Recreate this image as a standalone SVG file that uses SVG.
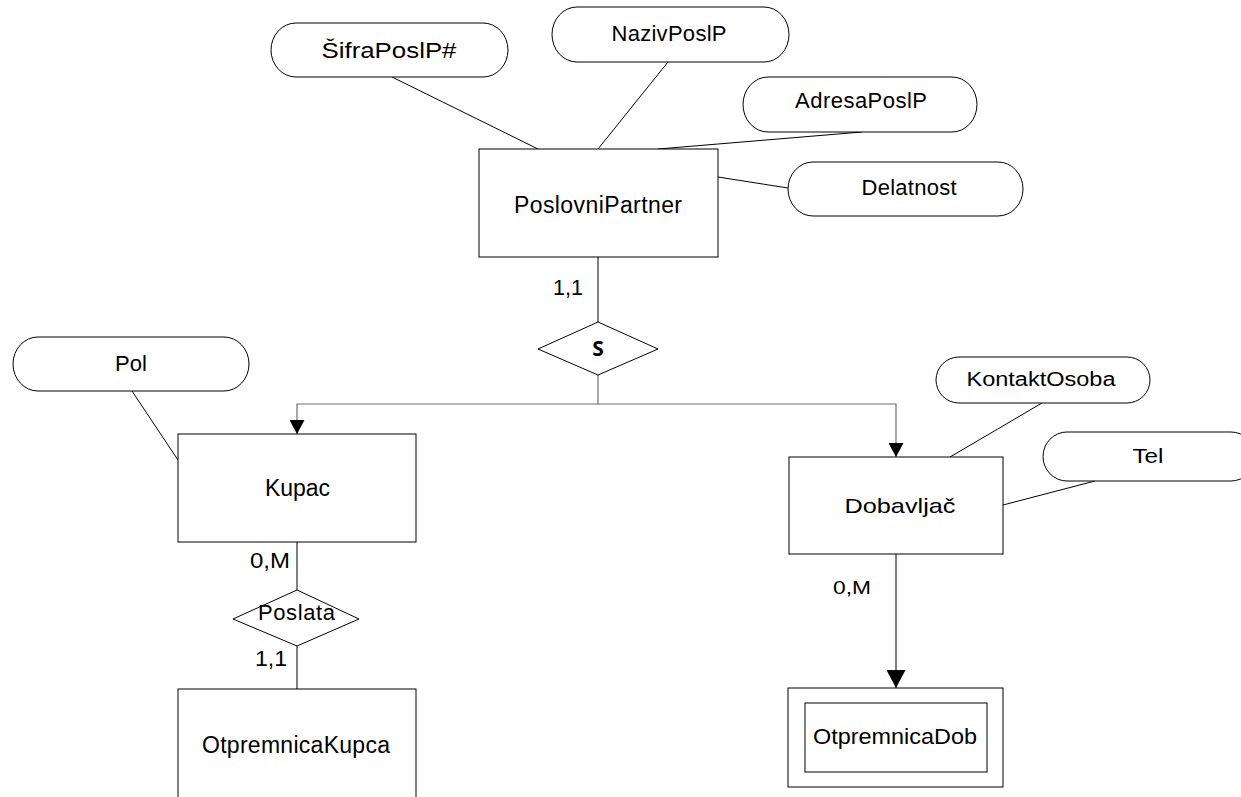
<svg xmlns="http://www.w3.org/2000/svg" width="1241" height="797" viewBox="0 0 1241 797">
  <defs>
    <style>
      .shape { fill: #ffffff; stroke: #000000; stroke-width: 1; }
      .link { fill: none; stroke: #000000; stroke-width: 1; }
      .isa { fill: none; stroke: #6e6e6e; stroke-width: 1.2; }
      .lbl { font-family: "Liberation Sans", Arial, sans-serif; font-size: 22px; fill: #000000; text-anchor: middle; }
      .ent { font-size: 23px; }
      .sm { font-size: 20px; }
      .card { font-family: "Liberation Sans", Arial, sans-serif; font-size: 22px; fill: #000000; }
      .sym { font-family: "Open Sans", "DejaVu Sans", sans-serif; font-weight: bold; font-size: 21px; text-anchor: middle; }
    </style>
    <marker id="arrow" viewBox="0 0 14 15" refX="14" refY="7.5" markerWidth="14" markerHeight="15" markerUnits="userSpaceOnUse" orient="auto">
      <path d="M0,0 L14,7.5 L0,15 Z" fill="#000000"/>
    </marker>
    <marker id="arrowBig" viewBox="0 0 18 19" refX="18" refY="9.5" markerWidth="18" markerHeight="19" markerUnits="userSpaceOnUse" orient="auto">
      <path d="M0,0 L18,9.5 L0,19 Z" fill="#000000"/>
    </marker>
  </defs>

  <!-- connectors: attribute links, relationships and specialization -->
  <g id="connectors">
    <line class="link" x1="392" y1="77" x2="538" y2="149"/>
    <line class="link" x1="668" y1="62" x2="598" y2="149"/>
    <line class="link" x1="862" y1="132" x2="658" y2="149"/>
    <line class="link" x1="718" y1="177" x2="788" y2="188"/>
    <line class="link" x1="132" y1="391" x2="178" y2="460"/>
    <line class="link" x1="1042" y1="403" x2="950" y2="457"/>
    <line class="link" x1="1095" y1="481" x2="1003" y2="505"/>

    <line class="link" x1="598" y1="257" x2="598" y2="322"/>
    <polyline class="isa" points="598,375 598,404 297,404 297,434" marker-end="url(#arrow)"/>
    <polyline class="isa" points="598,404 896,404 896,457" marker-end="url(#arrow)"/>

    <line class="link" x1="297" y1="542" x2="297" y2="590"/>
    <line class="link" x1="297" y1="646" x2="297" y2="689"/>
    <line class="link" x1="896" y1="554" x2="896" y2="688" marker-end="url(#arrowBig)"/>

    <text class="card" x="553" y="295" textLength="30" lengthAdjust="spacingAndGlyphs">1,1</text>
    <text class="card" x="250" y="568" textLength="40" lengthAdjust="spacingAndGlyphs">0,M</text>
    <text class="card" x="255" y="666" textLength="32" lengthAdjust="spacingAndGlyphs">1,1</text>
    <text class="card" x="833" y="594" style="font-size:19px" textLength="38" lengthAdjust="spacingAndGlyphs">0,M</text>
  </g>

  <!-- attributes -->
  <g id="attr-sifra">
    <rect class="shape" x="271" y="23" width="237" height="54" rx="25" ry="27"/>
    <text class="lbl" x="389" y="58" textLength="135" lengthAdjust="spacingAndGlyphs">ŠifraPoslP#</text>
  </g>
  <g id="attr-naziv">
    <rect class="shape" x="552" y="7" width="237" height="55" rx="25" ry="27.5"/>
    <text class="lbl" x="669" y="41" textLength="115" lengthAdjust="spacing">NazivPoslP</text>
  </g>
  <g id="attr-adresa">
    <rect class="shape" x="743" y="77" width="234" height="55" rx="25" ry="27.5"/>
    <text class="lbl" x="861" y="108" textLength="132" lengthAdjust="spacing">AdresaPoslP</text>
  </g>
  <g id="attr-delatnost">
    <rect class="shape" x="788" y="162" width="235" height="54" rx="25" ry="27"/>
    <text class="lbl" x="909" y="195" textLength="95" lengthAdjust="spacing">Delatnost</text>
  </g>
  <g id="attr-pol">
    <rect class="shape" x="13" y="337" width="236" height="54" rx="25" ry="27"/>
    <text class="lbl" x="131" y="371" textLength="32" lengthAdjust="spacing">Pol</text>
  </g>
  <g id="attr-kontakt">
    <rect class="shape" x="936" y="357" width="214" height="46" rx="23" ry="23"/>
    <text class="lbl sm" x="1041" y="386" textLength="149" lengthAdjust="spacingAndGlyphs">KontaktOsoba</text>
  </g>
  <g id="attr-tel">
    <rect class="shape" x="1043" y="432" width="212" height="49" rx="24" ry="24.5"/>
    <text class="lbl sm" x="1148" y="463" textLength="31" lengthAdjust="spacingAndGlyphs">Tel</text>
  </g>

  <!-- entities -->
  <g id="ent-poslovni-partner">
    <rect class="shape" x="479" y="149" width="239" height="108"/>
    <text class="lbl ent" x="598" y="213" textLength="168" lengthAdjust="spacing">PoslovniPartner</text>
  </g>
  <g id="ent-kupac">
    <rect class="shape" x="178" y="434" width="238" height="108"/>
    <text class="lbl ent" x="297.5" y="496" textLength="65" lengthAdjust="spacing">Kupac</text>
  </g>
  <g id="ent-dobavljac">
    <rect class="shape" x="789" y="457" width="214" height="97"/>
    <text class="lbl" x="900" y="513" style="font-size:21px" textLength="111" lengthAdjust="spacingAndGlyphs">Dobavljač</text>
  </g>
  <g id="ent-otpremnica-kupca">
    <rect class="shape" x="178" y="689" width="238" height="130"/>
    <text class="lbl ent" x="296" y="753" textLength="188" lengthAdjust="spacing">OtpremnicaKupca</text>
  </g>
  <g id="ent-otpremnica-dob">
    <rect class="shape" x="788" y="688" width="215" height="99"/>
    <rect class="shape" x="805" y="703" width="182" height="69"/>
    <text class="lbl" x="895" y="744" textLength="164" lengthAdjust="spacingAndGlyphs">OtpremnicaDob</text>
  </g>

  <!-- specialization and relationship -->
  <g id="rel-s">
    <polygon class="shape" points="598,322 658,349 598,375 538,349"/>
    <text class="sym" x="598" y="356">S</text>
  </g>
  <g id="rel-poslata">
    <polygon class="shape" points="297,590 359,619 297,646 233,619"/>
    <text class="lbl" x="296.5" y="620" textLength="77" lengthAdjust="spacing">Poslata</text>
  </g>
</svg>
